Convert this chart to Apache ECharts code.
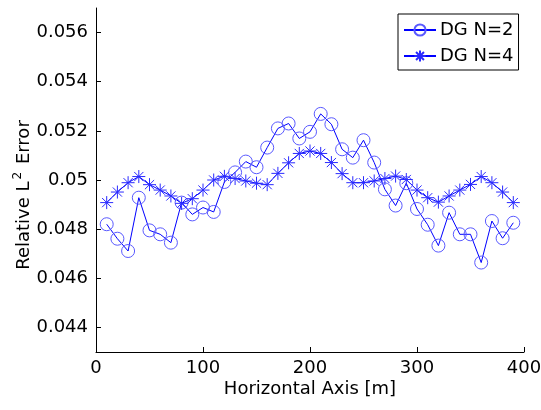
<!DOCTYPE html>
<html>
<head>
<meta charset="utf-8">
<script src="https://cdn.jsdelivr.net/npm/echarts@6/dist/echarts.min.js"></script>
<style>html,body{margin:0;padding:0;background:#fff;}#c{width:541px;height:410px;}</style>
</head>
<body>
<div id="c"></div>
<script>
var xValues = [10,20,30,40,50,60,70,80,90,100,110,120,130,140,150,160,170,180,190,200,210,220,230,240,250,260,270,280,290,300,310,320,330,340,350,360,370,380,390];
var dgN2 = [0.04820,0.04761,0.04711,0.04928,0.04795,0.04779,0.04745,0.04908,0.04860,0.04888,0.04870,0.04992,0.05031,0.05075,0.05052,0.05132,0.05210,0.05230,0.05169,0.05196,0.05269,0.05227,0.05125,0.05091,0.05162,0.05071,0.04962,0.04896,0.04987,0.04882,0.04818,0.04733,0.04867,0.04779,0.04779,0.04664,0.04833,0.04763,0.04826];
var dgN4 = [0.04908,0.04951,0.04989,0.05014,0.04981,0.04959,0.04935,0.04905,0.04924,0.04959,0.05000,0.05015,0.05006,0.04996,0.04987,0.04981,0.05027,0.05070,0.05108,0.05118,0.05108,0.05071,0.05026,0.04989,0.04989,0.04996,0.05006,0.05016,0.05002,0.04959,0.04928,0.04910,0.04935,0.04959,0.04982,0.05014,0.04989,0.04951,0.04908];
var yTicks = [0.044,0.046,0.048,0.050,0.052,0.054,0.056];
var xTicks = [0,100,200,300,400];
var seriesNames = ['DG N=2','DG N=4'];

function pairs(xs, ys){ return xs.map(function(x,i){ return [x, ys[i]]; }); }

var FONT = 'DejaVu Sans';
var starPath = 'path://M0,-10L0,10M-10,0L10,0M-7.07,-7.07L7.07,7.07M-7.07,7.07L7.07,-7.07';

var chart = echarts.init(document.getElementById('c'));
chart.setOption({
  animation: false,
  backgroundColor: '#fff',
  grid: { left: 96, right: 17, top: 8, bottom: 58, containLabel: false, outerBoundsMode: 'none' },
  xAxis: {
    type: 'value', min: 0, max: 400, interval: 100,
    name: 'Horizontal Axis [m]', nameLocation: 'middle', nameGap: 28, nameMoveOverlap: false,
    nameTextStyle: { fontFamily: FONT, fontSize: 18, color: '#000' },
    axisLine: { show: true, lineStyle: { color: '#000', width: 1 } },
    axisTick: { show: true, inside: true, length: 5, lineStyle: { color: '#000' }, customValues: xTicks },
    axisLabel: { fontFamily: FONT, fontSize: 18, color: '#000', margin: 7, customValues: xTicks },
    splitLine: { show: false }
  },
  yAxis: {
    type: 'value', min: 0.043, max: 0.057,
    name: 'Relative L{sup|2} Error', nameLocation: 'middle', nameGap: 60, nameMoveOverlap: false,
    nameTextStyle: { fontFamily: FONT, fontSize: 18, color: '#000', padding: [0, 30, 0, 0],
      rich: { sup: { fontFamily: FONT, fontSize: 12, color: '#000', verticalAlign: 'top', padding: [0,2,12,2] } } },
    axisLine: { show: true, lineStyle: { color: '#000', width: 1 } },
    axisTick: { show: true, inside: true, length: 5, lineStyle: { color: '#000' }, customValues: yTicks },
    axisLabel: { fontFamily: FONT, fontSize: 18, color: '#000', margin: 8, customValues: yTicks,
      formatter: function(v){ return String(+(+v).toFixed(3)); } },
    splitLine: { show: false }
  },
  legend: {
    orient: 'vertical', left: 398, top: 14,
    padding: [7, 5, 5, 5], itemGap: 8, itemWidth: 32, itemHeight: 14,
    borderColor: '#000', borderWidth: 1, backgroundColor: '#fff', borderRadius: 0,
    textStyle: { fontFamily: FONT, fontSize: 18, color: '#000', padding: [0,0,0,-1] },
    data: seriesNames
  },
  series: [
    { name: seriesNames[0], type: 'line', data: pairs(xValues, dgN2),
      symbol: 'circle', symbolSize: 13, showAllSymbol: true,
      lineStyle: { color: '#0000ff', width: 1 },
      itemStyle: { color: 'rgba(0,0,0,0)', borderColor: '#5a5aff', borderWidth: 1 } },
    { name: seriesNames[1], type: 'line', data: pairs(xValues, dgN4),
      symbol: starPath, symbolSize: 13, showAllSymbol: true,
      lineStyle: { color: '#0000ff', width: 1 },
      itemStyle: { color: 'rgba(0,0,0,0)', borderColor: '#2a2aff', borderWidth: 1 } }
  ]
});
</script>
</body>
</html>
